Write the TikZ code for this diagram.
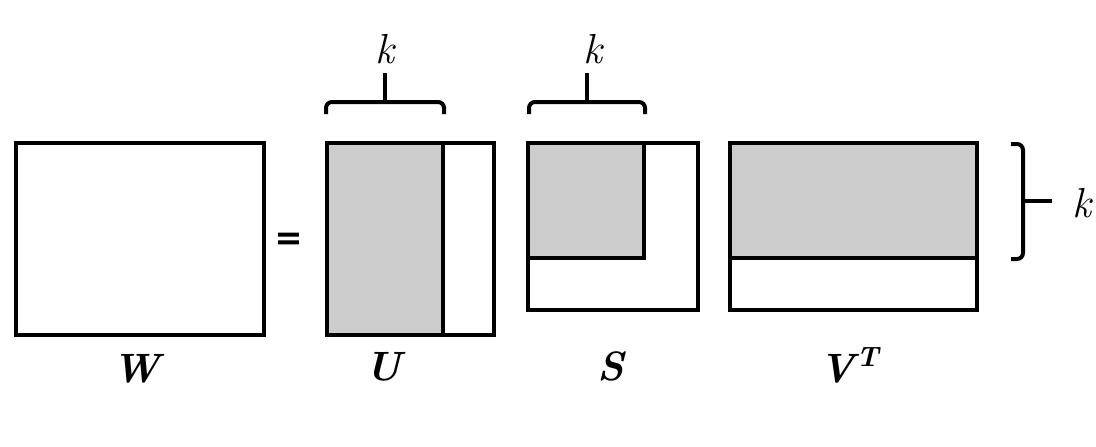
\documentclass[tikz,border=0pt]{standalone}
\usepackage{fontspec}
\definecolor{shade}{RGB}{205,204,205}
\newfontfamily\eqfont[FakeBold=3]{Liberation Sans Bold}
\newcommand{\bi}[1]{\textbf{\textit{#1}}}
\tikzset{
  mat/.style={draw=black, line width=4.2pt},
  part/.style={fill=shade},
  brace/.style={draw=black, line width=4pt, rounded corners=6pt},
  lab/.style={anchor=base, inner sep=0pt, font=\fontsize{41}{48}\selectfont},
  klab/.style={anchor=base, inner sep=0pt, font=\fontsize{42}{48}\selectfont\itshape}
}
\begin{document}
\begin{tikzpicture}[x=1pt,y=-1pt]
\useasboundingbox (0,0) rectangle (1096,447);
% W
\draw[mat] (16,143) rectangle (264,335);
\node[lab] (lW) at (139,382) {\bi{W}};
% equals
\node[inner sep=0pt] (eq) at (288.5,240.5) {\resizebox{23pt}{15pt}{\eqfont =}};
% U
\fill[part] (327,143) rectangle (443,335);
\draw[mat] (327,143) rectangle (494,335);
\draw[mat] (443,143) -- (443,335);
\node[lab] (lU) at (386,380) {\bi{U}};
% S
\fill[part] (528,143) rectangle (644,258);
\draw[mat] (528,143) rectangle (698,310);
\draw[mat] (528,258) -| (644,143);
\node[lab] (lS) at (612,380) {\bi{S}};
% V^T
\fill[part] (730,143) rectangle (977,258);
\draw[mat] (730,143) rectangle (977,310);
\draw[mat] (730,258) -- (977,258);
\node[lab] (lV) at (850,382) {\bi{V}\kern-3pt\raisebox{16pt}{\fontsize{28}{32}\selectfont\bi{T}}};
% braces
\draw[brace] (326,114) -- (326,102) -- (444,102) -- (444,114);
\draw[line width=4pt] (385,102) -- (385,73);
\node[klab] (k1) at (385,63) {k};
\draw[brace] (529,114) -- (529,102) -- (645,102) -- (645,114);
\draw[line width=4pt] (587,102) -- (587,73);
\node[klab] (k2) at (593,63) {k};
\draw[brace] (1011,144) -- (1023,144) -- (1023,259) -- (1011,259);
\draw[line width=4pt] (1023,201) -- (1052,201);
\node[klab] (k3) at (1082,217) {k};
\end{tikzpicture}
\end{document}
